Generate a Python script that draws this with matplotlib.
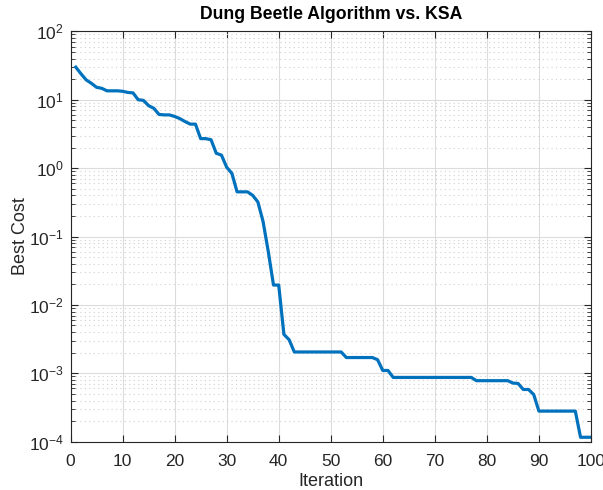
import numpy as np
import matplotlib.pyplot as plt

# Best cost per iteration of the dung beetle run
iterations = np.arange(1, 101)
best_cost = np.array(
    [30, 24, 19.5, 17.4, 15.2, 14.7, 13.5, 13.5, 13.5, 13.3,
     12.8, 12.6, 10.0, 9.8, 8.2, 7.5, 6.1, 6.0, 6.0, 5.7,
     5.3, 4.8, 4.4, 4.4, 2.7, 2.7, 2.6, 1.65, 1.55, 1.03,
     0.84, 0.45, 0.45, 0.45, 0.40, 0.32, 0.165, 0.06, 0.0195, 0.0195,
     0.0037, 0.0031]
    + [0.00205] * 10
    + [0.0017] * 6
    + [0.00158, 0.0011, 0.0011]
    + [0.00087] * 16
    + [0.00078] * 7
    + [0.00072, 0.00071, 0.00058, 0.00058, 0.00049]
    + [0.00028] * 8
    + [0.000116] * 3
)

x_ticks = np.arange(0, 101, 10)

plt.rcParams['font.family'] = ['Liberation Sans', 'DejaVu Sans']

fig = plt.figure(figsize=(6.03, 4.90), dpi=100)
ax = fig.add_axes([0.117, 0.0986, 0.863, 0.8374])

ax.semilogy(iterations, best_cost, color=(0, 0.447, 0.741), linewidth=2.3)

ax.set_xlim(0, 100)
ax.set_ylim(1e-4, 1e2)
ax.set_xticks(x_ticks)
ax.set_yticks([10.0 ** k for k in range(-4, 3)])

ax.grid(True, which='major', color='#dcdcdc', linewidth=0.8)
ax.grid(True, which='minor', axis='y', color='#d0d0d0', linestyle=(0, (1, 3)), linewidth=0.8)
ax.set_axisbelow(True)

ax.tick_params(which='both', direction='in', top=True, right=True, colors='#262626', labelsize=12.5)
ax.tick_params(which='major', length=5)
ax.tick_params(which='minor', length=3)
ax.tick_params(axis='x', pad=9)
ax.tick_params(axis='y', pad=5)
for spine in ax.spines.values():
    spine.set_color('#262626')
    spine.set_linewidth(0.8)

ax.set_title('Dung Beetle Algorithm vs. KSA', fontsize=12.7, fontweight='bold', pad=9)
ax.set_xlabel('Iteration', fontsize=13, color='#262626', labelpad=3)
ax.set_ylabel('Best Cost', fontsize=13, color='#262626', labelpad=0)

fig.savefig('out.png', dpi=100)
